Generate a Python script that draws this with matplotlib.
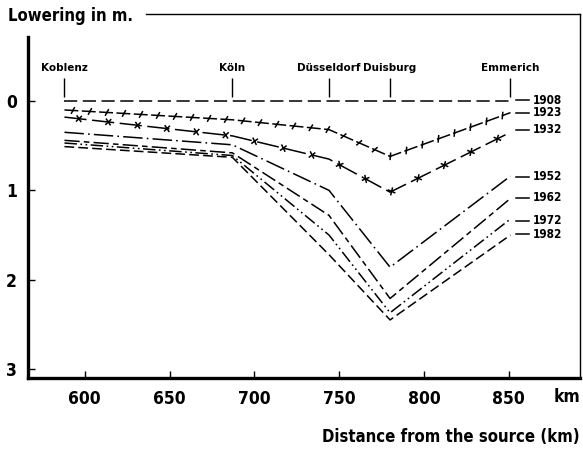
import matplotlib
matplotlib.use("Agg")
import matplotlib.pyplot as plt
from matplotlib import font_manager as fm
from matplotlib import patheffects as pe

plt.rcParams['lines.scale_dashes'] = False

# river km of the towns
towns = ['Koblenz', 'Köln', 'Düsseldorf', 'Duisburg', 'Emmerich']
town_km = [588, 687, 744, 780, 851]

years = ['1908', '1923', '1932', '1952', '1962', '1972', '1982']
# lowering of the river bed (m) at each town
low_1908 = [0.00, 0.00, 0.00, 0.00, 0.00]
low_1923 = [0.10, 0.21, 0.32, 0.62, 0.13]
low_1932 = [0.18, 0.39, 0.65, 1.02, 0.35]
low_1952 = [0.35, 0.49, 1.00, 1.86, 0.84]
low_1962 = [0.44, 0.58, 1.28, 2.21, 1.09]
low_1972 = [0.47, 0.61, 1.50, 2.37, 1.32]
low_1982 = [0.51, 0.63, 1.72, 2.45, 1.50]
lowering = [low_1908, low_1923, low_1932, low_1952, low_1962, low_1972, low_1982]
label_y = [-0.01, 0.13, 0.32, 0.85, 1.08, 1.34, 1.49]

x_ticks = [600, 650, 700, 750, 800, 850]
y_ticks = [0, 1, 2, 3]


def narrow_font():
    # look for an installed condensed / narrow bold face
    best = None
    for f in fm.fontManager.ttflist:
        nm = f.name + ' ' + str(f.fname)
        if ('Condensed' not in nm and 'Narrow' not in nm) or 'Extra' in nm \
                or 'Semi' in nm or 'Italic' in nm or f.style != 'normal':
            continue
        w = f.weight if isinstance(f.weight, int) else \
            {'bold': 700, 'normal': 400, 'regular': 400}.get(str(f.weight), 400)
        score = -abs(w - 700)
        if best is None or score > best[0]:
            best = (score, f.fname)
    if best:
        return fm.FontProperties(fname=best[1])
    return fm.FontProperties(family='DejaVu Sans', weight='bold', stretch='condensed')


NARROW = narrow_font()

dash_styles = [
    (9.5, 4),
    (10, 2.5),
    (16, 4),
    (14, 3, 1.2, 3),
    (11, 3, 4, 3),
    (9, 2.5, 1.2, 2.5, 1.2, 2.5),
    (7, 3),
]
# tick marks drawn along 1923 (slashes) and 1932 (crosses)
tick_marks = {
    1: [pe.TickedStroke(spacing=12.2, angle=a, length=0.18) for a in (65, 245)],
    2: [pe.TickedStroke(spacing=21, angle=a, length=0.115) for a in (50, 130, 230, 310)],
}

fig = plt.figure(figsize=(5.83, 4.53), dpi=100)
ax = fig.add_axes([28/583, 1 - 378/453, 552/583, 364/453])

for i, (vals, ds) in enumerate(zip(lowering, dash_styles)):
    ax.plot(town_km, vals, color='black', lw=1.1, dashes=ds)
    if i in tick_marks:
        ax.plot(town_km, vals, color='black', lw=1.1, ls='-',
                path_effects=tick_marks[i])

# year labels on the right
for yr, yy in zip(years, label_y):
    ax.plot([854, 862], [yy, yy], color='black', lw=1.1)
    ax.text(864, yy, yr, fontproperties=NARROW, fontsize=8.5,
            va='center', ha='left')

# town markers
ax.vlines(town_km, -0.26, -0.045, color='black', lw=1.0)
for t, k in zip(towns, town_km):
    ax.text(k, -0.37, t, fontsize=7.5, fontweight='bold', ha='center', va='center')

ax.set_xlim(566.5, 892)
ax.set_ylim(3.10, -0.974)
ax.set_xticks(x_ticks)
ax.set_yticks(y_ticks)
ax.tick_params(direction='in', length=5, width=1.0)
ax.tick_params(axis='x', pad=9)
ax.tick_params(axis='y', pad=8)
for lab in ax.get_xticklabels() + ax.get_yticklabels():
    lab.set_fontproperties(NARROW)
    lab.set_fontsize(12.5)

ax.spines['left'].set_linewidth(2.4)
ax.spines['bottom'].set_linewidth(2.4)
ax.spines['right'].set_linewidth(1.0)
ax.spines['top'].set_linewidth(1.0)
ax.spines['left'].set_bounds(3.10, -0.717)
ax.spines['top'].set_bounds(636, 892)

fig.text(8/583, 1 - 16/453, 'Lowering in m.', fontproperties=NARROW, fontsize=12,
         va='center', ha='left')
fig.text(567/583, 1 - 397/453, 'km', fontproperties=NARROW, fontsize=12.5,
         va='center', ha='center')
fig.text(580/583, 1 - 437/453, 'Distance from the source (km)',
         fontproperties=NARROW, fontsize=12, va='center', ha='right')

fig.savefig('out.png', dpi=100)
